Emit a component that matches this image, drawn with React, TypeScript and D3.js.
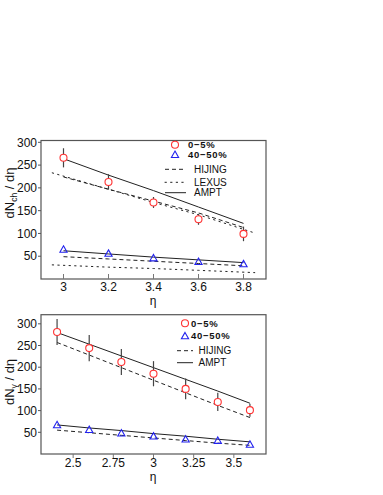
import React from 'react';
import * as d3 from 'd3';

// top panel: charged particles
const etaTop = [3.0, 3.2, 3.4, 3.6, 3.8];
const ch0to5 = [266, 213, 168, 131, 99];
const ch0to5Err = [21, 17, 12, 12, 16];
const ch40to50 = [65, 56, 46, 38, 33];
const chAmpt0to5 = [264, 228, 194, 158, 122];
const chHijing0to5 = [224, 197, 171, 145, 113];
const chAmpt40to50 = [62, 55, 48, 42, 36];
const chHijing40to50 = [49, 44, 39, 34, 29];
const etaLexus = [2.95, 3.2, 3.4, 3.6, 3.85];
const chLexus0to5 = [233, 197, 168, 141, 101];
const chLexus40to50 = [31, 26, 23, 19, 14];
const topXTicks = [3, 3.2, 3.4, 3.6, 3.8];

// bottom panel: photons
const etaBot = [2.4, 2.6, 2.8, 3.0, 3.2, 3.4, 3.6];
const g0to5 = [281, 244, 212, 185, 150, 120, 101];
const g0to5Err = [30, 30, 30, 29, 24, 21, 15];
const g40to50 = [67, 56, 48, 41, 34, 31, 22];
const gAmpt0to5 = [280, 253, 226, 199, 172, 145, 117];
const gHijing0to5 = [257, 228, 199, 170, 141, 112, 84];
const gAmpt40to50 = [67, 60, 54, 47, 41, 34, 28];
const gHijing40to50 = [55, 49, 43, 37, 31, 25, 20];
const botXTicks = [2.5, 2.75, 3, 3.25, 3.5];

const yTicks = [50, 100, 150, 200, 250, 300];

const FONT = 'Liberation Sans, Arial, sans-serif';
const RED = '#ff3333';
const BLUE = '#2222ee';
const LINE = '#222';
const DASH = '4,3';
const DOT = '1.4,4.2';

type Curve = { x: number[]; y: number[]; dash?: string };

const Tri = ({ cx, cy }: { cx: number; cy: number }) => (
  <path
    d={`M${cx},${cy - 3.6}L${cx + 3.6},${cy + 2.8}L${cx - 3.6},${cy + 2.8}Z`}
    fill="none"
    stroke={BLUE}
    strokeWidth={1.1}
  />
);

const Circ = ({ cx, cy }: { cx: number; cy: number }) => (
  <circle cx={cx} cy={cy} r={3.5} fill="white" stroke={RED} strokeWidth={1.1} />
);

function Panel(props: {
  top: number; bottom: number; xDomain: [number, number]; yMax: number;
  xTicks: number[]; xFmt: (v: number) => string; xTickIn: boolean;
  eta: number[]; central: number[]; centralErr: number[]; peripheral: number[];
  curves: Curve[]; yTitle: string; yTitleSub: string; yTitleY: number;
  tickBase: number; titleBase: number;
}) {
  const left = 41, right = 266;
  const x = d3.scaleLinear().domain(props.xDomain).range([left, right]);
  const y = d3.scaleLinear().domain([0, props.yMax]).range([props.bottom, props.top]);
  const line = (xs: number[], ys: number[]) =>
    d3.line<number>().x((_, i) => x(xs[i])).y(d => y(d))(ys) || '';

  return (
    <g fontFamily={FONT}>
      {props.curves.map((c, i) => (
        <path key={i} d={line(c.x, c.y)} fill="none" stroke={LINE} strokeWidth={1}
          strokeDasharray={c.dash} strokeLinecap={c.dash === DOT ? 'round' : 'butt'} />
      ))}
      {props.eta.map((e, i) => (
        <line key={'e' + i} x1={x(e)} x2={x(e)}
          y1={y(props.central[i] + props.centralErr[i])}
          y2={y(props.central[i] - props.centralErr[i])}
          stroke="#444" strokeWidth={1.2} />
      ))}
      {props.eta.map((e, i) => (
        <Circ key={'c' + i} cx={x(e)} cy={y(props.central[i])} />
      ))}
      {props.eta.map((e, i) => (
        <Tri key={'t' + i} cx={x(e)} cy={y(props.peripheral[i])} />
      ))}
      <rect x={left} y={props.top} width={right - left} height={props.bottom - props.top}
        fill="none" stroke="#555" strokeWidth={1.2} />
      {yTicks.map(t => (
        <g key={'y' + t}>
          <line x1={left - 3} x2={left} y1={y(t)} y2={y(t)} stroke="#555" />
          <text x={37} y={y(t) + 4.2} textAnchor="end" fontSize={12} fill="#111">{t}</text>
        </g>
      ))}
      {props.xTicks.map(t => (
        <g key={'x' + t}>
          <line x1={x(t)} x2={x(t)} y1={props.bottom}
            y2={props.bottom + (props.xTickIn ? -5 : 4)} stroke="#777" />
          <text x={x(t)} y={props.tickBase} textAnchor="middle" fontSize={12} fill="#111">
            {props.xFmt(t)}
          </text>
        </g>
      ))}
      <text x={153} y={props.titleBase} textAnchor="middle" fontSize={12} fill="#111">η</text>
      <text transform={`translate(14,${props.yTitleY}) rotate(-90)`} textAnchor="middle"
        fontSize={13} fill="#111">
        {props.yTitle}
        <tspan fontSize={8.5} dy={3}>{props.yTitleSub}</tspan>
        <tspan dy={-3}> / dη</tspan>
      </text>
    </g>
  );
}

function Legend(props: {
  markX: number; textX: number; rows: number[]; lineX: [number, number];
  lineTextX: number; items: { label: string; dash?: string }[];
}) {
  const [y0, y1] = props.rows;
  return (
    <g fontFamily={FONT} fill="#111">
      <Circ cx={props.markX} cy={y0} />
      <text x={props.textX} y={y0 + 3.4} fontSize={9.5} fontWeight="bold" letterSpacing={0.7}>0−5%</text>
      <Tri cx={props.markX} cy={y1} />
      <text x={props.textX} y={y1 + 3.4} fontSize={9.5} fontWeight="bold" letterSpacing={0.7}>40−50%</text>
      {props.items.map((it, i) => {
        const yy = props.rows[2 + i];
        return (
          <g key={it.label}>
            <line x1={props.lineX[0]} x2={props.lineX[1]} y1={yy} y2={yy} stroke={LINE}
              strokeDasharray={it.dash} strokeLinecap={it.dash === DOT ? 'round' : 'butt'} />
            <text x={props.lineTextX} y={yy + 3.5} fontSize={10}>{it.label}</text>
          </g>
        );
      })}
    </g>
  );
}

export default function App() {
  const fmt = (v: number) => String(v);
  return (
    <svg width={383} height={495} style={{ position: 'absolute', left: 0, top: 0, background: 'white' }}>
      <Panel top={140.5} bottom={279} xDomain={[2.9, 3.9]} yMax={304}
        xTicks={topXTicks} xFmt={fmt} xTickIn={true}
        eta={etaTop} central={ch0to5} centralErr={ch0to5Err} peripheral={ch40to50}
        curves={[
          { x: etaTop, y: chAmpt0to5 },
          { x: etaTop, y: chHijing0to5, dash: DASH },
          { x: etaLexus, y: chLexus0to5, dash: DOT },
          { x: etaTop, y: chAmpt40to50 },
          { x: etaTop, y: chHijing40to50, dash: DASH },
          { x: etaLexus, y: chLexus40to50, dash: DOT },
        ]}
        yTitle="dN" yTitleSub="ch" yTitleY={193} tickBase={291} titleBase={305} />
      <Legend markX={175} textX={188} rows={[144.7, 154.7, 169.3, 182.3, 192.7]}
        lineX={[165, 186]} lineTextX={194}
        items={[{ label: 'HIJING', dash: DASH }, { label: 'LEXUS', dash: DOT }, { label: 'AMPT' }]} />
      <Panel top={314.7} bottom={454} xDomain={[2.3, 3.7]} yMax={321}
        xTicks={botXTicks} xFmt={fmt} xTickIn={false}
        eta={etaBot} central={g0to5} centralErr={g0to5Err} peripheral={g40to50}
        curves={[
          { x: etaBot, y: gAmpt0to5 },
          { x: etaBot, y: gHijing0to5, dash: DASH },
          { x: etaBot, y: gAmpt40to50 },
          { x: etaBot, y: gHijing40to50, dash: DASH },
        ]}
        yTitle="dN" yTitleSub="γ" yTitleY={382} tickBase={467} titleBase={481} />
      <Legend markX={185} textX={191} rows={[323.3, 336, 350.7, 362.7]}
        lineX={[177, 193]} lineTextX={198.5}
        items={[{ label: 'HIJING', dash: DASH }, { label: 'AMPT' }]} />
    </svg>
  );
}
